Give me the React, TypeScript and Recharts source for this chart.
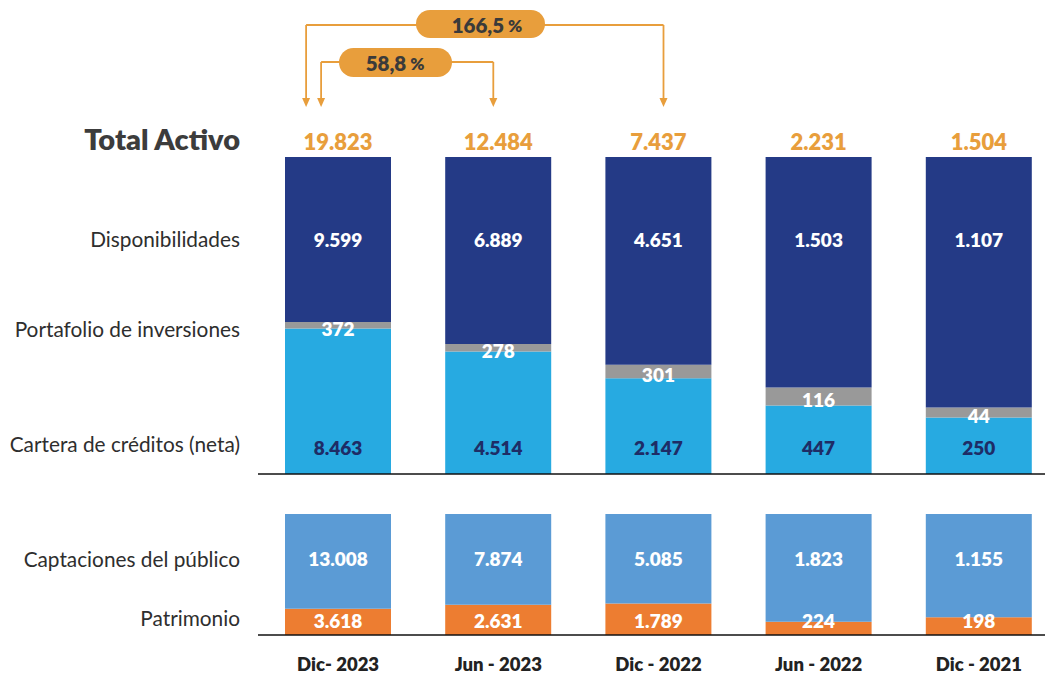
import React from 'react';
import { BarChart, Bar, XAxis, YAxis, LabelList } from 'recharts';

// ---------- data ----------
const categories = ['Dic- 2023', 'Jun - 2023', 'Dic - 2022', 'Jun - 2022', 'Dic - 2021'];
const totalActivo = [19823, 12484, 7437, 2231, 1504];
const disponibilidades = [9599, 6889, 4651, 1503, 1107];
const portafolio = [372, 278, 301, 116, 44];
const cartera = [8463, 4514, 2147, 447, 250];
const captaciones = [13008, 7874, 5085, 1823, 1155];
const patrimonio = [3618, 2631, 1789, 224, 198];
const growthBig = '166,5';
const growthSmall = '58,8';

const assetsData = categories.map((c, i) => ({
  cat: c,
  total: totalActivo[i],
  disp: disponibilidades[i],
  port: portafolio[i],
  cart: cartera[i],
}));
const fundingData = categories.map((c, i) => ({
  cat: c,
  capt: captaciones[i],
  patr: patrimonio[i],
}));

// ---------- style ----------
const FONT = 'Lato, "Open Sans", sans-serif';
const C_DISP = '#243A86';
const C_PORT = '#999999';
const C_CART = '#27AAE1';
const C_CAPT = '#5B9BD5';
const C_PATR = '#ED7D31';
const C_ORANGE = '#E89E3C';
const C_NAVYTXT = '#1E2C66';
const C_TXT = '#2E2E2E';

const CHART_W = 1060;
const LEFT = 258;
const RIGHT = 1;
const BAND = (CHART_W - LEFT - RIGHT) / categories.length;
const center = (i: number) => LEFT + BAND * (i + 0.5);

const fmt = (v: any) => String(v).replace(/\B(?=(\d{3})+(?!\d))/g, '.');

const geom = (p: any) => {
  const vb = p.viewBox || {};
  return {
    x: p.x ?? vb.x,
    y: p.y ?? vb.y,
    w: p.width ?? vb.width,
    h: p.height ?? vb.height,
  };
};

const makeLabel = (mode: string, color: string, size: number) => (p: any) => {
  const { x, y, w, h } = geom(p);
  let ty = y + h / 2;
  if (mode === 'above') ty = y - 16;
  if (mode === 'fromTop82') ty = y + 82;
  if (mode === 'fromTop44') ty = y + 44;
  if (mode === 'fromBottom27') ty = y + h - 27;
  if (mode === 'fromBottom15') ty = y + h - 15;
  if (mode === 'centerShift') ty = y + h / 2 + 3;
  return (
    <text
      x={x + w / 2}
      y={ty}
      textAnchor="middle"
      dominantBaseline="central"
      fill={color}
      fontFamily={FONT}
      fontWeight={800}
      fontSize={size}
    >
      {fmt(p.value)}
    </text>
  );
};

const XTick = (p: any) => (
  <text
    x={p.x}
    y={p.y + 29}
    textAnchor="middle"
    dominantBaseline="central"
    fill="#222"
    fontFamily={FONT}
    fontWeight={800}
    fontSize={18.5}
  >
    {p.payload.value}
  </text>
);

const Arrow = ({ x, y1, y2 }: { x: number; y1: number; y2: number }) => (
  <g>
    <line x1={x} y1={y1} x2={x} y2={y2 - 8} stroke={C_ORANGE} strokeWidth={1.8} />
    <polygon points={`${x - 4},${y2 - 9} ${x + 4},${y2 - 9} ${x},${y2}`} fill={C_ORANGE} />
  </g>
);

const Overlay = () => {
  const c0 = center(0);
  const c1 = center(1);
  const c2 = center(2);
  const bigL = c0 - 32;
  const bigR = c2 + 5;
  const smallL = c0 - 17;
  const smallR = c1 - 5;
  const tip = 107;
  return (
    <svg
      width={1045}
      height={675}
      style={{ position: 'absolute', left: 0, top: 0, pointerEvents: 'none' }}
    >
      <g fontFamily={FONT} fill={C_TXT} textAnchor="end" dominantBaseline="central">
        <text x={240} y={138} fontSize={29} fontWeight={800} fill="#3C3C3C">Total Activo</text>
        <text x={240} y={238} fontSize={20.8}>Disponibilidades</text>
        <text x={240} y={328} fontSize={20.8}>Portafolio de inversiones</text>
        <text x={240} y={443} fontSize={20.8}>Cartera de créditos (neta)</text>
        <text x={240} y={558} fontSize={20.8}>Captaciones del público</text>
        <text x={240} y={617} fontSize={20.8}>Patrimonio</text>
      </g>
      {/* big bracket */}
      <line x1={bigL} y1={25} x2={bigR} y2={25} stroke={C_ORANGE} strokeWidth={1.8} />
      <Arrow x={bigL} y1={25} y2={tip} />
      <Arrow x={bigR} y1={25} y2={tip} />
      <rect x={416} y={10} width={129} height={28} rx={14} fill={C_ORANGE} />
      <text x={487} y={25} textAnchor="middle" dominantBaseline="central" fontFamily={FONT} fontWeight={800} fill="#3A3A3A">
        <tspan fontSize={20.5}>{growthBig}</tspan>
        <tspan fontSize={17}> %</tspan>
      </text>
      {/* small bracket */}
      <line x1={smallL} y1={62} x2={smallR} y2={62} stroke={C_ORANGE} strokeWidth={1.8} />
      <Arrow x={smallL} y1={62} y2={tip} />
      <Arrow x={smallR} y1={62} y2={tip} />
      <rect x={339} y={48} width={113} height={29} rx={14.5} fill={C_ORANGE} />
      <text x={395} y={63} textAnchor="middle" dominantBaseline="central" fontFamily={FONT} fontWeight={800} fill="#3A3A3A">
        <tspan fontSize={20.5}>{growthSmall}</tspan>
        <tspan fontSize={17}> %</tspan>
      </text>
    </svg>
  );
};

export default function App() {
  return (
    <div
      style={{
        position: 'absolute',
        left: 0,
        top: 0,
        width: 1045,
        height: 675,
        overflow: 'hidden',
        background: '#fff',
        fontFamily: FONT,
      }}
    >
      <div style={{ position: 'absolute', left: 0, top: 0 }}>
        <BarChart
          width={CHART_W}
          height={481}
          data={assetsData}
          stackOffset="expand"
          barSize={106}
          margin={{ top: 157, right: RIGHT, left: LEFT, bottom: 0 }}
        >
          <XAxis
            dataKey="cat"
            height={7}
            tick={false}
            tickLine={false}
            axisLine={{ stroke: '#111', strokeWidth: 1.5 }}
          />
          <YAxis hide domain={[0, 1]} />
          <Bar dataKey="cart" stackId="a" fill={C_CART} isAnimationActive={false}>
            <LabelList dataKey="cart" content={makeLabel('fromBottom27', C_NAVYTXT, 19)} />
          </Bar>
          <Bar dataKey="port" stackId="a" fill={C_PORT} isAnimationActive={false}>
            <LabelList dataKey="port" content={makeLabel('centerShift', '#ffffff', 19)} />
          </Bar>
          <Bar dataKey="disp" stackId="a" fill={C_DISP} isAnimationActive={false}>
            <LabelList dataKey="disp" content={makeLabel('fromTop82', '#ffffff', 19)} />
            <LabelList dataKey="total" content={makeLabel('above', C_ORANGE, 22)} />
          </Bar>
        </BarChart>
      </div>
      <div style={{ position: 'absolute', left: 0, top: 480 }}>
        <BarChart
          width={CHART_W}
          height={195}
          data={fundingData}
          stackOffset="expand"
          barSize={106}
          margin={{ top: 34, right: RIGHT, left: LEFT, bottom: 0 }}
        >
          <XAxis
            dataKey="cat"
            height={40}
            tickLine={false}
            tickSize={0}
            tickMargin={0}
            interval={0}
            tick={<XTick />}
            axisLine={{ stroke: '#111', strokeWidth: 1.5 }}
          />
          <YAxis hide domain={[0, 1]} />
          <Bar dataKey="patr" stackId="b" fill={C_PATR} isAnimationActive={false}>
            <LabelList dataKey="patr" content={makeLabel('fromBottom15', '#ffffff', 19)} />
          </Bar>
          <Bar dataKey="capt" stackId="b" fill={C_CAPT} isAnimationActive={false}>
            <LabelList dataKey="capt" content={makeLabel('fromTop44', '#ffffff', 19)} />
          </Bar>
        </BarChart>
      </div>
      <Overlay />
    </div>
  );
}
